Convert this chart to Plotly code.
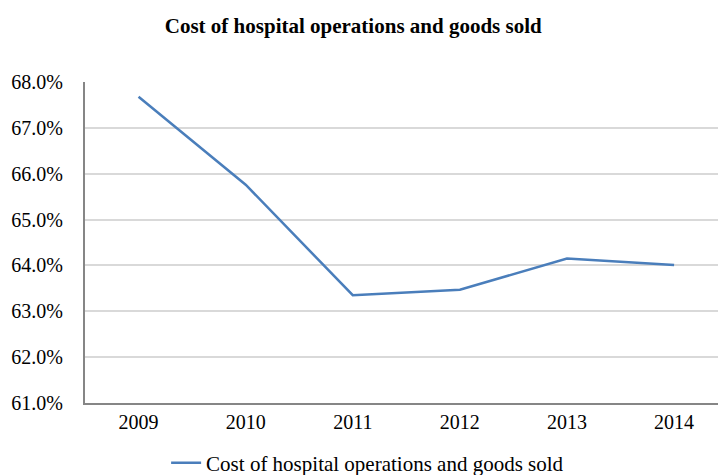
import plotly.graph_objects as go

# Cost of hospital operations and goods sold, share of revenue by year
years = ["2009", "2010", "2011", "2012", "2013", "2014"]
cost_pct = [67.68, 65.76, 63.35, 63.47, 64.15, 64.01]
y_ticks = [61, 62, 63, 64, 65, 66, 67, 68]
y_tick_labels = [f"{v:.1f}%" for v in y_ticks]

series_name = "Cost of hospital operations and goods sold"
serif = "Liberation Serif, Times New Roman, serif"

fig = go.Figure()
fig.add_trace(go.Scatter(
    x=list(range(len(years))),
    y=cost_pct,
    mode="lines",
    name=series_name,
    line=dict(color="#4a7ebb", width=2.5),
))

fig.update_layout(
    width=718,
    height=475,
    margin=dict(l=85, r=0, t=82, b=72),
    paper_bgcolor="white",
    plot_bgcolor="white",
    font=dict(family=serif, size=20, color="black"),
    title=dict(
        text="<b>Cost of hospital operations and goods sold</b>",
        font=dict(family=serif, size=21, color="black"),
        x=0.492, xanchor="center", xref="container",
        y=0.947, yanchor="middle", yref="container",
    ),
    showlegend=True,
    legend=dict(
        orientation="h",
        x=0.512, xanchor="center", xref="container",
        y=0.025, yanchor="middle", yref="container",
        font=dict(family=serif, size=21, color="black"),
        bgcolor="rgba(0,0,0,0)",
    ),
    xaxis=dict(
        tickmode="array",
        tickvals=list(range(len(years))),
        ticktext=years,
        range=[-0.5, 5.41],
        showgrid=False,
        showline=True,
        linecolor="#868686",
        linewidth=2,
        ticks="",
        zeroline=False,
        fixedrange=True,
    ),
    yaxis=dict(
        range=[61, 68],
        tickmode="array",
        tickvals=y_ticks,
        ticktext=y_tick_labels,
        showgrid=True,
        gridcolor="#d9d9d9",
        gridwidth=1.5,
        showline=True,
        linecolor="#868686",
        linewidth=2,
        ticks="",
        ticklabelstandoff=16,
        zeroline=False,
        fixedrange=True,
    ),
)

fig.write_html("out.html")
